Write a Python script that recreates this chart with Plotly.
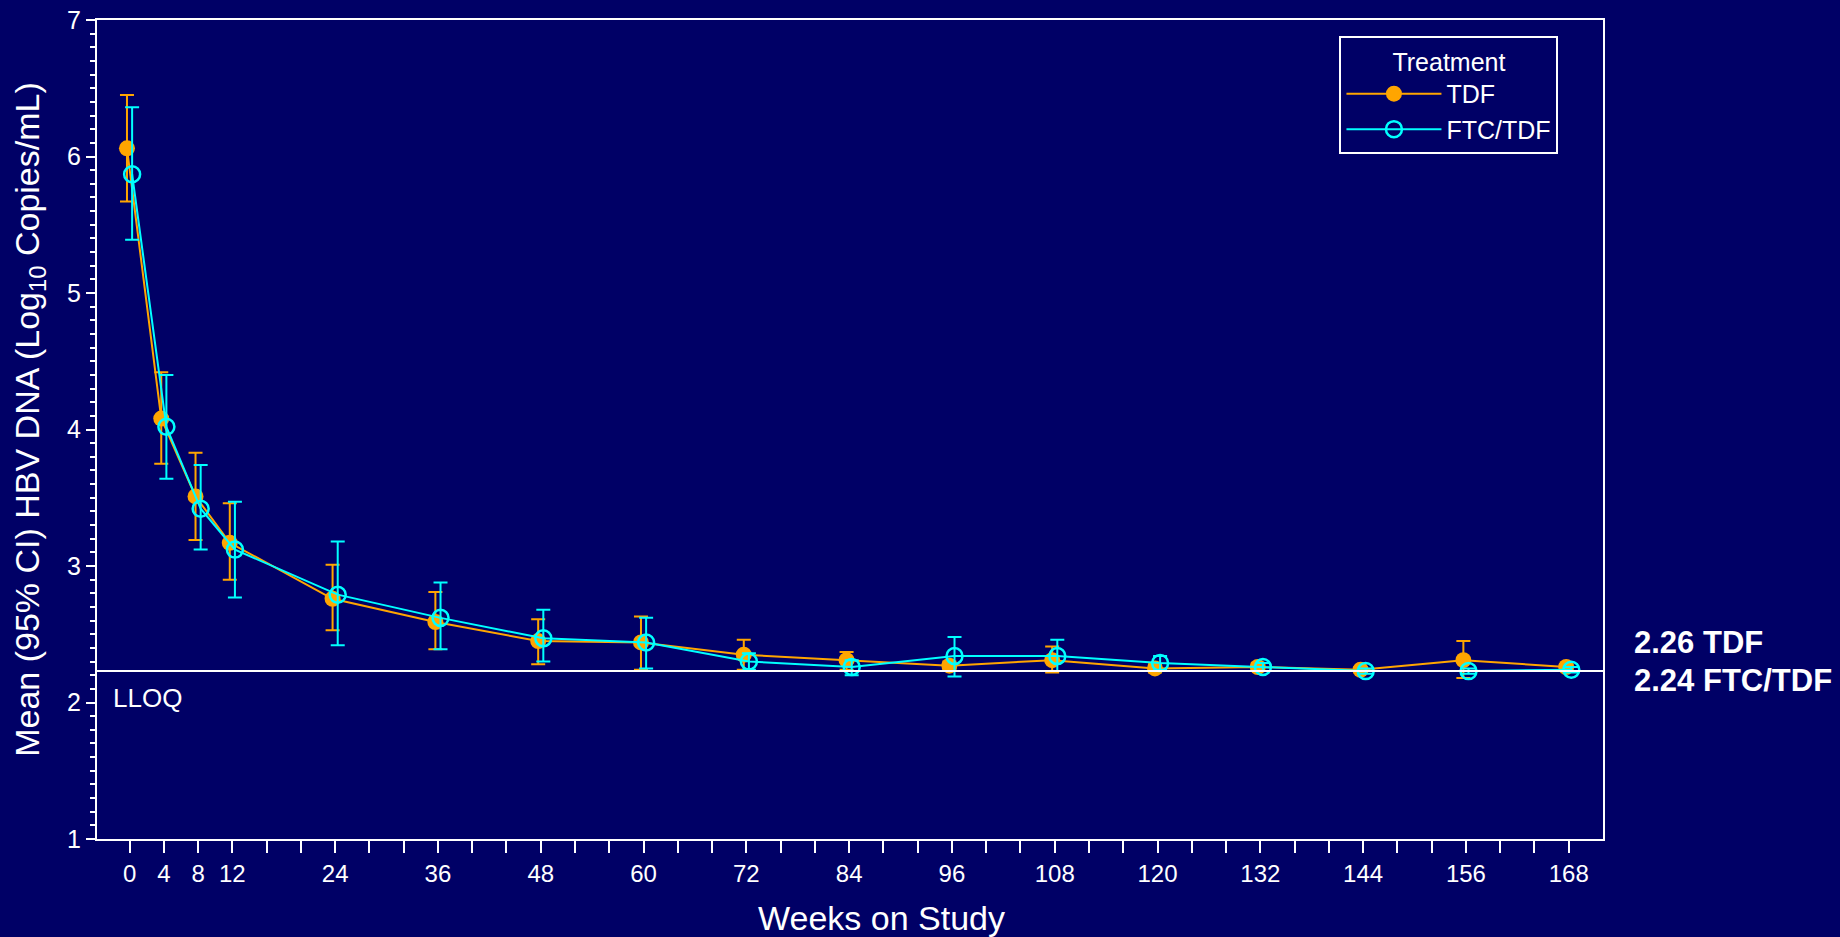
import plotly.graph_objects as go

# ---------------- data ----------------
weeks = [0, 4, 8, 12, 24, 36, 48, 60, 72, 84, 96, 108, 120, 132, 144, 156, 168]

tdf_mean  = [6.06, 4.08, 3.51, 3.17, 2.76, 2.59, 2.45, 2.44, 2.35, 2.31, 2.27, 2.31, 2.25, 2.26, 2.24, 2.31, 2.26]
tdf_upper = [6.45, 4.42, 3.83, 3.46, 3.01, 2.81, 2.61, 2.63, 2.46, 2.37, 2.30, 2.41, 2.28, 2.29, 2.26, 2.45, 2.28]
tdf_lower = [5.67, 3.75, 3.19, 2.90, 2.53, 2.39, 2.28, 2.24, 2.24, 2.24, 2.24, 2.22, 2.22, 2.23, 2.22, 2.18, 2.24]

ftc_mean  = [5.87, 4.02, 3.42, 3.12, 2.79, 2.62, 2.47, 2.44, 2.30, 2.26, 2.34, 2.34, 2.29, 2.26, 2.23, 2.23, 2.24]
ftc_upper = [6.36, 4.40, 3.74, 3.47, 3.18, 2.88, 2.68, 2.62, 2.36, 2.31, 2.48, 2.46, 2.34, 2.29, 2.25, 2.25, 2.26]
ftc_lower = [5.39, 3.64, 3.12, 2.77, 2.42, 2.39, 2.30, 2.25, 2.24, 2.20, 2.19, 2.23, 2.24, 2.23, 2.21, 2.21, 2.22]

lloq = 2.23

x_tick_vals = list(range(0, 169, 4))
x_labeled = [0, 4, 8, 12, 24, 36, 48, 60, 72, 84, 96, 108, 120, 132, 144, 156, 168]
x_tick_text = [str(v) if v in x_labeled else " " for v in x_tick_vals]
y_tick_vals = [1, 2, 3, 4, 5, 6, 7]

final_labels = ["2.26 TDF", "2.24 FTC/TDF"]

# ---------------- style ----------------
BG = "#000066"
ORANGE = "#FFA500"
CYAN = "#00FFFF"
FONT = "Liberation Sans, Arial, sans-serif"
offset = 0.3

fig = go.Figure()

fig.add_trace(go.Scatter(
    x=[w - offset for w in weeks], y=tdf_mean, name="TDF",
    mode="lines+markers",
    line=dict(color=ORANGE, width=2),
    marker=dict(symbol="circle", size=16, color=ORANGE),
    error_y=dict(type="data", symmetric=False,
                 array=[u - m for u, m in zip(tdf_upper, tdf_mean)],
                 arrayminus=[m - l for m, l in zip(tdf_mean, tdf_lower)],
                 color=ORANGE, thickness=2, width=7),
))
fig.add_trace(go.Scatter(
    x=[w + offset for w in weeks], y=ftc_mean, name="FTC/TDF",
    mode="lines+markers",
    line=dict(color=CYAN, width=2),
    marker=dict(symbol="circle-open", size=16, color=CYAN, line=dict(width=2.5, color=CYAN)),
    error_y=dict(type="data", symmetric=False,
                 array=[u - m for u, m in zip(ftc_upper, ftc_mean)],
                 arrayminus=[m - l for m, l in zip(ftc_mean, ftc_lower)],
                 color=CYAN, thickness=2, width=7),
))

fig.add_shape(type="line", xref="paper", yref="y", x0=0, x1=1, y0=lloq, y1=lloq,
              line=dict(color="white", width=2))

annotations = [
    dict(text="LLOQ", xref="paper", yref="y", x=0.009, y=2.03, xanchor="left", yanchor="middle",
         showarrow=False, font=dict(size=26, color="white", family=FONT)),
    dict(text=final_labels[0], xref="paper", yref="y", x=1.019, y=2.44, xanchor="left", yanchor="middle",
         showarrow=False, font=dict(size=31, color="white", family=FONT, weight="bold")),
    dict(text=final_labels[1], xref="paper", yref="y", x=1.019, y=2.16, xanchor="left", yanchor="middle",
         showarrow=False, font=dict(size=31, color="white", family=FONT, weight="bold")),
    dict(text="Mean (95% CI) HBV DNA (Log<sub>10</sub> Copies/mL)", xref="paper", yref="paper",
         x=-0.0445, y=0.513, xanchor="center", yanchor="middle", textangle=-90,
         showarrow=False, font=dict(size=34, color="white", family=FONT)),
    dict(text="Weeks on Study", xref="paper", yref="paper",
         x=0.521, y=-0.0965, xanchor="center", yanchor="middle",
         showarrow=False, font=dict(size=34, color="white", family=FONT)),
]

fig.update_layout(
    width=1840, height=937,
    paper_bgcolor=BG, plot_bgcolor=BG,
    margin=dict(l=97, r=237, t=20, b=98, autoexpand=False),
    font=dict(family=FONT, color="white"),
    showlegend=True,
    legend=dict(
        x=0.825, y=0.98, xanchor="left", yanchor="top",
        bgcolor=BG, bordercolor="white", borderwidth=2,
        font=dict(size=25, color="white", family=FONT),
        title=dict(text="Treatment", side="top center", font=dict(size=25, color="white", family=FONT)),
        itemwidth=95, tracegroupgap=0,
    ),
    annotations=annotations,
    xaxis=dict(
        range=[-3.8, 172], showgrid=False, zeroline=False,
        showline=True, linecolor="white", linewidth=2, mirror=True,
        tickmode="array", tickvals=x_tick_vals, ticktext=x_tick_text,
        ticks="outside", ticklen=12, tickwidth=2, tickcolor="white",
        tickfont=dict(size=24, color="white", family=FONT),
    ),
    yaxis=dict(
        range=[1, 7], showgrid=False, zeroline=False,
        showline=True, linecolor="white", linewidth=2, mirror=True,
        tickmode="array", tickvals=y_tick_vals,
        ticks="outside", ticklen=9, tickwidth=2, tickcolor="white",
        tickfont=dict(size=25, color="white", family=FONT),
        minor=dict(dtick=0.1, ticks="outside", ticklen=5, tickwidth=1.5, tickcolor="white", showgrid=False),
    ),
)

fig.write_html("out.html", config={"displayModeBar": False},
               post_script="document.body.style.margin='0';document.body.style.background='#000066';")
